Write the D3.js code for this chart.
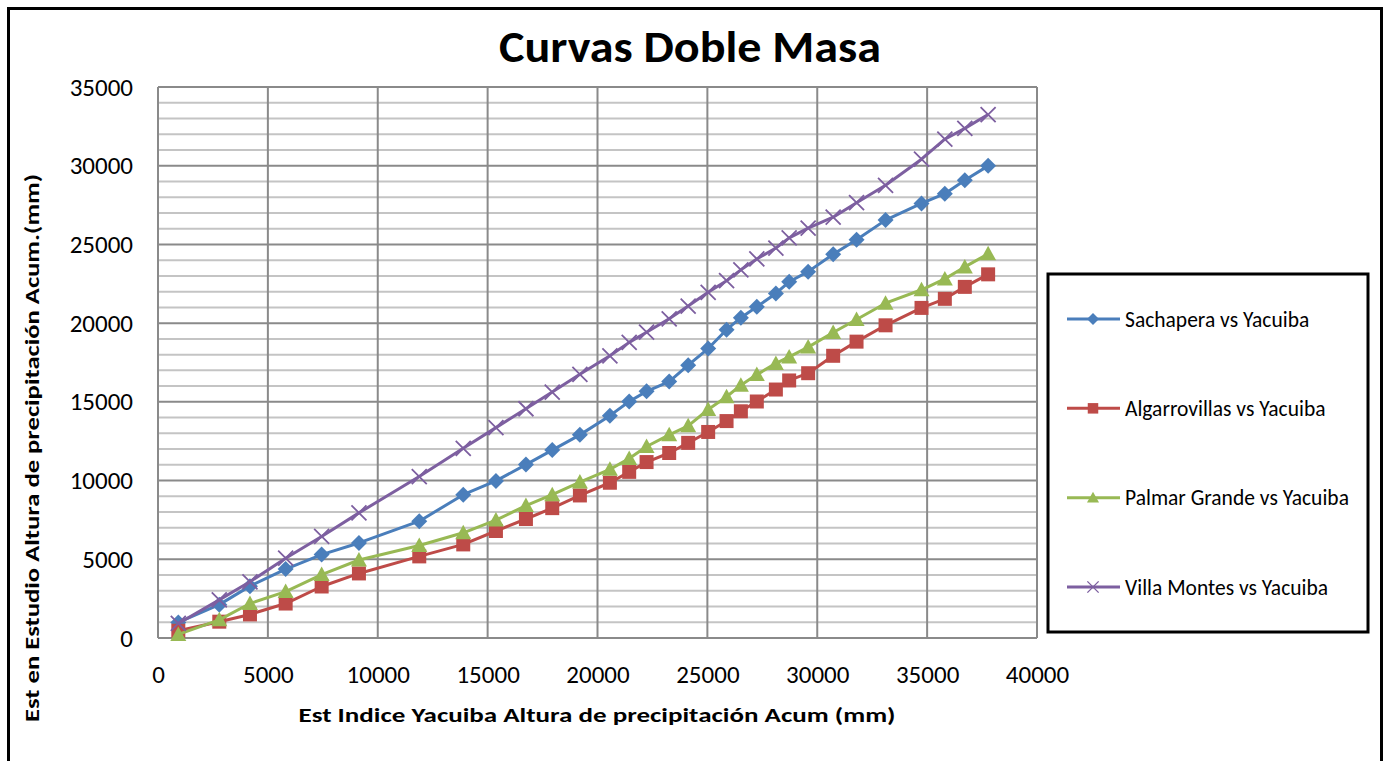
<!DOCTYPE html>
<html>
<head>
<meta charset="utf-8">
<script src="https://cdn.jsdelivr.net/npm/d3@7"></script>
<style>
  body { margin: 0; background: #fff; }
  svg text { font-family: Carlito, Calibri, Lato, "Open Sans", sans-serif; fill: #000; }
</style>
</head>
<body>
<svg id="chart" width="1390" height="761"></svg>
<script>
// Yacuiba accumulated precipitation (shared x for every series)
const yacuiba = [924, 2789, 4185, 5809, 7447, 9144, 11889, 13891, 15378, 16743, 17940, 19199, 20564, 21442, 22233,
  23262, 24126, 25036, 25873, 26524, 27250, 28117, 28722, 29586, 30724, 31788, 33108, 34745, 35806, 36715, 37776];

const sachapera = [991, 2120, 3295, 4378, 5300, 6037, 7419, 9101, 9977, 11014, 11935, 12903, 14124, 15023, 15668,
  16290, 17327, 18387, 19585, 20346, 21037, 21889, 22627, 23272, 24378, 25300, 26544, 27604, 28226, 29078, 29990];

const algarrovillas = [461, 1037, 1498, 2189, 3272, 4101, 5184, 5945, 6797, 7558, 8249, 9055, 9862, 10553, 11175,
  11751, 12396, 13088, 13779, 14401, 15023, 15783, 16359, 16820, 17926, 18825, 19862, 20968, 21544, 22304, 23100];

const palmarGrande = [230, 1152, 2189, 2949, 4032, 4954, 5876, 6682, 7488, 8410, 9101, 9908, 10714, 11406, 12166,
  12903, 13479, 14516, 15323, 16060, 16730, 17442, 17857, 18479, 19401, 20230, 21267, 22120, 22811, 23571, 24400];

const villaMontes = [922, 2419, 3571, 5069, 6452, 7949, 10253, 12051, 13364, 14562, 15622, 16751, 17926, 18779, 19424,
  20276, 21083, 21959, 22696, 23387, 24078, 24770, 25415, 26037, 26728, 27650, 28756, 30415, 31682, 32373, 33250];

const seriesNames = ['Sachapera vs Yacuiba', 'Algarrovillas vs Yacuiba', 'Palmar Grande vs Yacuiba', 'Villa Montes vs Yacuiba'];
const seriesColors = ['#4a7ebb', '#be4b48', '#98b954', '#7d5fa0'];
const seriesMarkers = ['diamond', 'square', 'triangle', 'cross'];
const seriesValues = [sachapera, algarrovillas, palmarGrande, villaMontes];

const xTicks = d3.range(0, 40001, 5000);
const yTicks = d3.range(0, 35001, 5000);
const yMinor = d3.range(0, 35001, 1000);

const svg = d3.select('#chart');

const margin = {left: 158, right: 1037, top: 87, bottom: 638};

const x = d3.scaleLinear().domain([0, 40000]).range([margin.left, margin.right]);
const y = d3.scaleLinear().domain([0, 35000]).range([margin.bottom, margin.top]);

// outer chart frame
svg.append('rect')
    .attr('x', 8.5).attr('y', 8.5)
    .attr('width', 1373).attr('height', 780)
    .attr('fill', 'none')
    .attr('stroke', '#000')
    .attr('stroke-width', 3);

svg.append('text')
    .attr('x', 690).attr('y', 62)
    .attr('text-anchor', 'middle')
    .attr('font-size', 44)
    .attr('font-weight', 'bold')
    .attr('textLength', 382)
    .attr('lengthAdjust', 'spacingAndGlyphs')
    .text('Curvas Doble Masa');

// grid
const grid = svg.append('g').attr('class', 'grid');

grid.selectAll('line.minor')
  .data(yMinor.filter(v => v % 5000 !== 0))
  .join('line')
    .attr('class', 'minor')
    .attr('x1', margin.left).attr('x2', margin.right)
    .attr('y1', d => y(d)).attr('y2', d => y(d))
    .attr('stroke', '#c4c4c4')
    .attr('stroke-width', 2);

grid.selectAll('line.major-y')
  .data(yTicks)
  .join('line')
    .attr('class', 'major-y')
    .attr('x1', margin.left).attr('x2', margin.right)
    .attr('y1', d => y(d)).attr('y2', d => y(d))
    .attr('stroke', '#8a8a8a')
    .attr('stroke-width', 2);

grid.selectAll('line.major-x')
  .data(xTicks)
  .join('line')
    .attr('class', 'major-x')
    .attr('x1', d => x(d)).attr('x2', d => x(d))
    .attr('y1', margin.top).attr('y2', margin.bottom)
    .attr('stroke', '#8a8a8a')
    .attr('stroke-width', 2);

// axes (labels only, Excel style)
const tickFont = 'Carlito, Calibri, Lato, "Open Sans", sans-serif';

const xAxis = svg.append('g')
    .attr('transform', `translate(0,${margin.bottom + 36})`)
    .call(d3.axisBottom(x).tickValues(xTicks).tickFormat(d3.format('d')).tickSize(0).tickPadding(0));
xAxis.select('.domain').remove();
xAxis.selectAll('text').attr('font-size', 25).attr('dy', '0.35em').attr('y', 0)
    .style('font-family', tickFont);

const yAxis = svg.append('g')
    .attr('transform', `translate(${margin.left - 25},0)`)
    .call(d3.axisLeft(y).tickValues(yTicks).tickFormat(d3.format('d')).tickSize(0).tickPadding(0));
yAxis.select('.domain').remove();
yAxis.selectAll('text').attr('font-size', 25)
    .style('font-family', tickFont);

svg.append('text')
    .attr('x', 597).attr('y', 722)
    .attr('text-anchor', 'middle')
    .attr('font-size', 21)
    .attr('font-weight', 'bold')
    .attr('textLength', 597)
    .attr('lengthAdjust', 'spacingAndGlyphs')
    .text('Est Indice Yacuiba  Altura de precipitación Acum (mm)');

svg.append('text')
    .attr('transform', 'translate(39,448) rotate(-90)')
    .attr('text-anchor', 'middle')
    .attr('font-size', 20)
    .attr('font-weight', 'bold')
    .attr('textLength', 548)
    .attr('lengthAdjust', 'spacingAndGlyphs')
    .text('Est en Estudio Altura de precipitación Acum.(mm)');

// series
const markerPaths = {
  diamond: 'M0,-8L8,0L0,8L-8,0Z',
  square: 'M-7,-7H7V7H-7Z',
  triangle: 'M0,-8L8,6.5L-8,6.5Z',
};

const drawMarker = (sel, kind, color) => {
  if (kind === 'cross') {
    sel.append('path')
        .attr('d', 'M-7.5,-7.5L7.5,7.5M-7.5,7.5L7.5,-7.5')
        .attr('stroke', color)
        .attr('stroke-width', 1.8)
        .attr('fill', 'none');
  } else {
    sel.append('path')
        .attr('d', markerPaths[kind])
        .attr('fill', color);
  }
};

const line = d3.line()
    .x(d => x(d[0]))
    .y(d => y(d[1]));

const plot = svg.append('g').attr('class', 'series');

seriesValues.forEach((vals, i) => {
  const pts = vals.map((v, j) => [yacuiba[j], v]);
  const g = plot.append('g');
  g.append('path')
      .attr('d', line(pts))
      .attr('fill', 'none')
      .attr('stroke', seriesColors[i])
      .attr('stroke-width', 3)
      .attr('stroke-linejoin', 'round');
  g.selectAll('g.pt')
    .data(pts)
    .join('g')
      .attr('class', 'pt')
      .attr('transform', d => `translate(${x(d[0])},${y(d[1])})`)
      .each(function() { drawMarker(d3.select(this), seriesMarkers[i], seriesColors[i]); });
});

// legend
const legend = svg.append('g').attr('class', 'legend');
legend.append('rect')
    .attr('x', 1048).attr('y', 274)
    .attr('width', 320).attr('height', 358)
    .attr('fill', '#fff')
    .attr('stroke', '#000')
    .attr('stroke-width', 3);

const legendY = d3.scalePoint().domain(seriesNames).range([319, 587]);

const item = legend.selectAll('g.item')
  .data(seriesNames)
  .join('g')
    .attr('class', 'item')
    .attr('transform', d => `translate(0,${legendY(d)})`);

item.append('line')
    .attr('x1', 1067).attr('x2', 1120)
    .attr('stroke', (d, i) => seriesColors[i])
    .attr('stroke-width', 3);

item.each(function(d, i) {
  const m = d3.select(this).append('g').attr('transform', 'translate(1093,0) scale(0.75)');
  drawMarker(m, seriesMarkers[i], seriesColors[i]);
});

item.append('text')
    .attr('x', 1125)
    .attr('dy', '0.35em')
    .attr('font-size', 21.5)
    .text(d => d);
</script>
</body>
</html>
